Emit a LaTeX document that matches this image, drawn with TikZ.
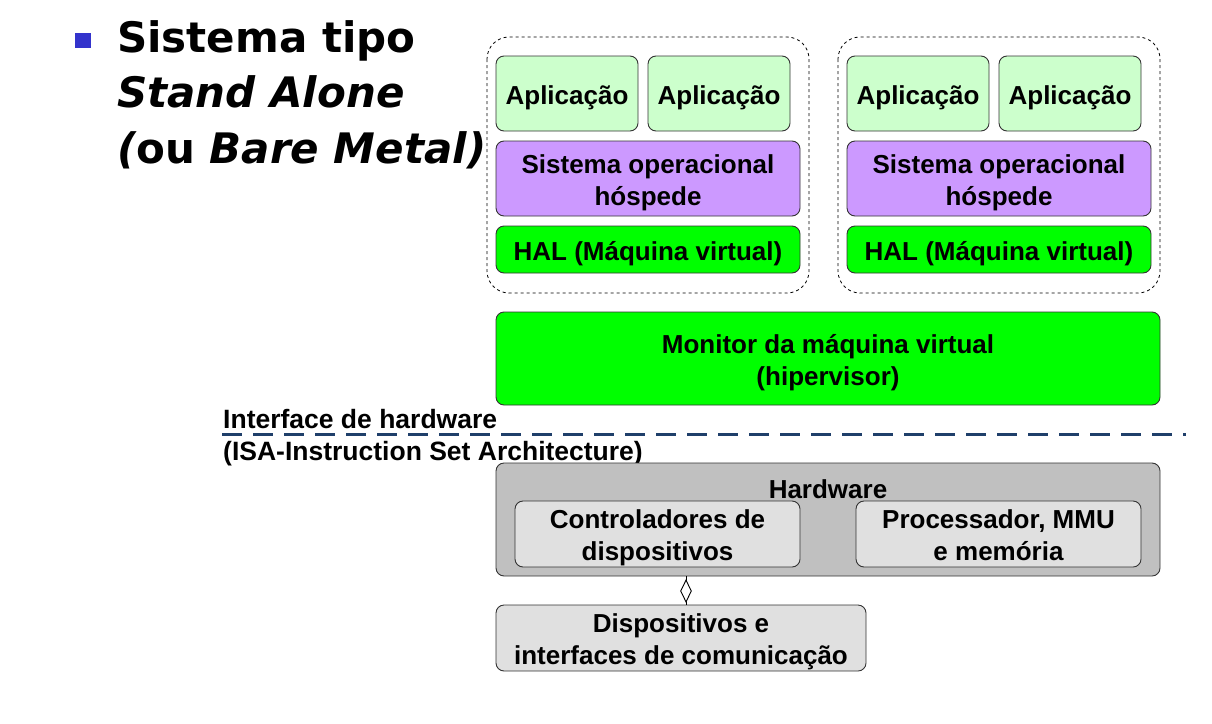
\documentclass[tikz,border=0pt]{standalone}
\usepackage{fontspec}
\setmainfont{Liberation Sans}
\newfontfamily\titlefont{DejaVu Sans}
\usetikzlibrary{shapes.geometric}
\definecolor{appgreen}{HTML}{CCFFCC}
\definecolor{osviolet}{HTML}{CC99FF}
\definecolor{halgreen}{HTML}{00FF00}
\definecolor{hwgray}{HTML}{C0C0C0}
\definecolor{partgray}{HTML}{E0E0E0}
\definecolor{bulletblue}{HTML}{3333CC}
\definecolor{isanavy}{HTML}{1F3F6A}
\tikzset{
  layer/.style={draw=black!80, line width=0.9pt, rounded corners=8pt, inner sep=0pt},
  lbltext/.style={align=center, inner sep=0pt, yshift=-4pt,
    font=\fontsize{26}{32}\selectfont\bfseries},
  tag/.style={label={[lbltext]center:{#1}}},
  vmgroup/.style={draw=black, line width=0.8pt, dashed, rounded corners=22pt},
  heading/.style={anchor=base west, inner sep=0pt, font=\titlefont\fontsize{42}{56}\selectfont\bfseries},
  isatext/.style={anchor=base west, inner sep=0pt, font=\fontsize{26.5}{32}\selectfont\bfseries},
}
\begin{document}
\begin{tikzpicture}[x=1pt,y=-1pt]
\useasboundingbox (0,0) rectangle (1212,723);

% heading with bullet
\fill[bulletblue] (75,33) rectangle (91,48);
\node[heading] (t1) at (117,52) {Sistema tipo};
\node[heading] (t2) at (117,107) {\itshape Stand Alone};
\node[heading] (t3) at (117,163) {\itshape(\upshape ou \itshape Bare Metal)};

% two virtual machines
\foreach \g/\dx in {a/0, b/351} {
  \draw[vmgroup] (487+\dx,37) rectangle (809+\dx,293);
  \node[layer, fill=appgreen, minimum width=142pt, minimum height=75pt, tag={Aplicação}] (app1\g) at (567+\dx,93.5) {};
  \node[layer, fill=appgreen, minimum width=142pt, minimum height=75pt, tag={Aplicação}] (app2\g) at (719+\dx,93.5) {};
  \node[layer, fill=osviolet, minimum width=304pt, minimum height=75pt, tag={Sistema operacional\\hóspede}] (os\g) at (648+\dx,178.5) {};
  \node[layer, fill=halgreen, minimum width=304pt, minimum height=47pt, tag={HAL (Máquina virtual)}] (hal\g) at (648+\dx,249.5) {};
}

% hypervisor
\node[layer, fill=halgreen, minimum width=664pt, minimum height=93pt, tag={Monitor da máquina virtual\\(hipervisor)}] (vmm) at (828,358.5) {};

% hardware interface
\node[isatext] (isa1) at (223,428) {Interface de hardware};
\node[isatext] (isa2) at (223,460) {(ISA-Instruction Set Architecture)};
\coordinate (isaL) at (222,434);
\coordinate (isaR) at (1186,434);
\draw[isanavy, line width=3pt, dash pattern=on 20pt off 11pt] (isaL) -- (isaR);

% hardware block
\node[layer, fill=hwgray, minimum width=664pt, minimum height=113pt] (hw) at (828,519.5) {};
\node[inner sep=0pt, font=\fontsize{26}{32}\selectfont\bfseries] (hwlabel) at (828,489) {Hardware};
\node[layer, fill=partgray, minimum width=285pt, minimum height=66pt, tag={Controladores de\\dispositivos}] (ctrl) at (657.5,534) {};
\node[layer, fill=partgray, minimum width=285pt, minimum height=66pt,
  label={[lbltext, yshift=3pt]center:{Processador, MMU\\e memória}}] (cpu) at (998.5,534) {};

% external devices
\node[layer, fill=partgray, minimum width=370pt, minimum height=66pt, tag={Dispositivos e\\interfaces de comunicação}] (dev) at (681,638) {};

% link between controllers and devices
\draw[line width=0.9pt] (hw.south -| 686,0) -- (dev.north -| 686,0);
\node[diamond, draw, line width=0.9pt, fill=white, minimum width=11pt, minimum height=22pt, inner sep=0pt] (link) at (686,591) {};
\end{tikzpicture}
\end{document}
